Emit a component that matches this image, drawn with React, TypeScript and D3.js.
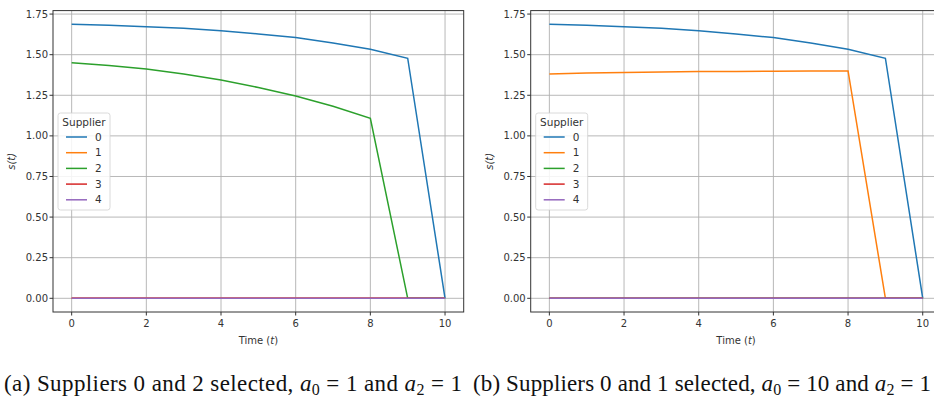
import * as d3 from "d3";

// time steps
const times = [0, 1, 2, 3, 4, 5, 6, 7, 8, 9, 10];
const suppliers = ["0", "1", "2", "3", "4"];
const colors = ["#1f77b4", "#ff7f0e", "#2ca02c", "#d62728", "#9467bd"];

// panel (a): suppliers 0 and 2 selected
const a_s0 = [1.687, 1.681, 1.672, 1.662, 1.648, 1.628, 1.605, 1.572, 1.533, 1.478, 0];
const a_s1 = [0, 0, 0, 0, 0, 0, 0, 0, 0, 0, 0];
const a_s2 = [1.451, 1.434, 1.412, 1.381, 1.344, 1.298, 1.246, 1.182, 1.108, 0, 0];
const a_s3 = [0, 0, 0, 0, 0, 0, 0, 0, 0, 0, 0];
const a_s4 = [0, 0, 0, 0, 0, 0, 0, 0, 0, 0, 0];

// panel (b): suppliers 0 and 1 selected
const b_s0 = [1.687, 1.681, 1.672, 1.662, 1.648, 1.628, 1.605, 1.572, 1.533, 1.478, 0];
const b_s1 = [1.381, 1.387, 1.391, 1.394, 1.396, 1.397, 1.398, 1.399, 1.4, 0, 0];
const b_s2 = [0, 0, 0, 0, 0, 0, 0, 0, 0, 0, 0];
const b_s3 = [0, 0, 0, 0, 0, 0, 0, 0, 0, 0, 0];
const b_s4 = [0, 0, 0, 0, 0, 0, 0, 0, 0, 0, 0];

const xTicks = [0, 2, 4, 6, 8, 10];
const yTicks = [0, 0.25, 0.5, 0.75, 1.0, 1.25, 1.5, 1.75];

const font = "DejaVu Sans, sans-serif";
const top = 10.6;
const bottom = 312;

function Panel({ left, series }: { left: number; series: number[][] }) {
  const width = 410.7;
  const x = d3.scaleLinear().domain([-0.5, 10.5]).range([left, left + width]);
  const all = series.flat();
  const [lo, hi] = d3.extent(all) as [number, number];
  const pad = (hi - lo) * 0.05;
  const y = d3.scaleLinear().domain([lo - pad, hi + pad]).range([bottom, top]);
  const line = d3
    .line<number>()
    .x((_, i) => x(times[i]))
    .y((d) => y(d));
  const lx = left + 5;
  const ly = 113;
  return (
    <g fontFamily={font}>
      <rect x={left} y={top} width={width} height={bottom - top} fill="white" />
      {xTicks.map((t) => (
        <line key={"gx" + t} x1={x(t)} x2={x(t)} y1={top} y2={bottom} stroke="#b0b0b0" strokeWidth={0.9} />
      ))}
      {yTicks.map((t) => (
        <line key={"gy" + t} x1={left} x2={left + width} y1={y(t)} y2={y(t)} stroke="#b0b0b0" strokeWidth={0.9} />
      ))}
      {series.map((s, i) => (
        <path key={i} d={line(s) || ""} fill="none" stroke={colors[i]} strokeWidth={1.5} />
      ))}
      <rect x={left} y={top} width={width} height={bottom - top} fill="none" stroke="#333" strokeWidth={1} />
      {xTicks.map((t) => (
        <g key={"tx" + t}>
          <line x1={x(t)} x2={x(t)} y1={bottom} y2={bottom + 3.5} stroke="#333" />
          <text x={x(t)} y={bottom + 15} fontSize={10} textAnchor="middle" fill="#333">
            {t}
          </text>
        </g>
      ))}
      {yTicks.map((t) => (
        <g key={"ty" + t}>
          <line x1={left - 3.5} x2={left} y1={y(t)} y2={y(t)} stroke="#333" />
          <text x={left - 5} y={y(t) + 3.5} fontSize={10} textAnchor="end" fill="#333">
            {d3.format(".2f")(t)}
          </text>
        </g>
      ))}
      <text x={x(5)} y={bottom + 32} fontSize={10} textAnchor="middle" fill="#333">
        Time (<tspan fontStyle="italic">t</tspan>)
      </text>
      <text
        transform={`translate(${left - 38},${(top + bottom) / 2}) rotate(-90)`}
        fontSize={10}
        textAnchor="middle"
        fill="#333"
        fontStyle="italic"
      >
        s(t)
      </text>
      <rect x={lx} y={ly} width={52} height={97} rx={2.5} fill="white" fillOpacity={0.85} stroke="#d0d0d0" strokeWidth={0.8} />
      <text x={lx + 26} y={ly + 13} fontSize={10.5} textAnchor="middle" fill="#333">
        Supplier
      </text>
      {suppliers.map((s, i) => (
        <g key={"lg" + s}>
          <line x1={lx + 8} x2={lx + 29} y1={ly + 24 + i * 15.7} y2={ly + 24 + i * 15.7} stroke={colors[i]} strokeWidth={1.5} />
          <text x={lx + 37} y={ly + 27.5 + i * 15.7} fontSize={10.5} fill="#333">
            {s}
          </text>
        </g>
      ))}
    </g>
  );
}

function Caption({ x, label, sel, a0 }: { x: number; label: string; sel: string; a0: string }) {
  return (
    <text
      x={x}
      y={391}
      fontSize={23}
      fontFamily="Liberation Serif, serif"
      fill="#111"
      textLength={458}
      lengthAdjust="spacing"
    >
      ({label}) Suppliers 0 and {sel} selected, <tspan fontStyle="italic">a</tspan>
      <tspan fontSize={16} dy={4}>0</tspan>
      <tspan dy={-4}> = {a0} and </tspan>
      <tspan fontStyle="italic">a</tspan>
      <tspan fontSize={16} dy={4}>2</tspan>
      <tspan dy={-4}> = 1</tspan>
    </text>
  );
}

export default function App() {
  return (
    <svg width={934} height={401} style={{ position: "absolute", left: 0, top: 0, background: "white" }}>
      <Panel left={53} series={[a_s0, a_s1, a_s2, a_s3, a_s4]} />
      <Panel left={530.7} series={[b_s0, b_s1, b_s2, b_s3, b_s4]} />
      <Caption x={4} label="a" sel="2" a0="1" />
      <Caption x={473} label="b" sel="1" a0="10" />
    </svg>
  );
}
